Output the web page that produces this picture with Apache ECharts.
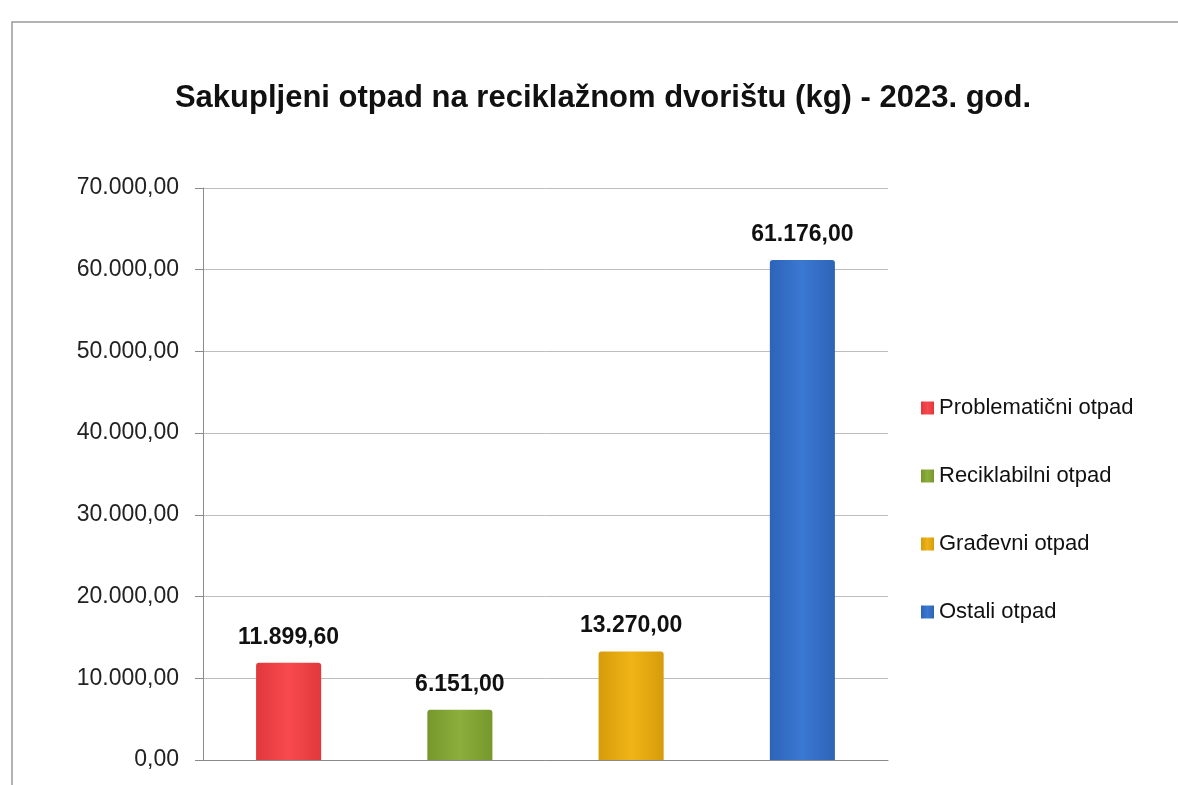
<!DOCTYPE html>
<html>
<head>
<meta charset="utf-8">
<script src="https://cdn.jsdelivr.net/npm/echarts@6/dist/echarts.min.js"></script>
<style>
  html, body { margin: 0; padding: 0; background: #fff; }
  #chart { width: 1178px; height: 785px; }
</style>
</head>
<body>
<div id="chart"></div>
<script>
  // podaci
  const title = 'Sakupljeni otpad na reciklažnom dvorištu (kg) - 2023. god.'
  const seriesNames = ['Problematični otpad', 'Reciklabilni otpad', 'Građevni otpad', 'Ostali otpad']
  const values = [11899.6, 6151.0, 13270.0, 61176.0]
  const colors = ['#f84a4f', '#8cae3c', '#f0b418', '#3b78d2']
  const colorsDark = ['#e0383c', '#76982c', '#d69c0a', '#2d64b8']

  function fmt(v) {
    const parts = v.toFixed(2).split('.')
    const whole = parts[0].replace(/\B(?=(\d{3})+(?!\d))/g, '.')
    return whole + ',' + parts[1]
  }

  const chart = echarts.init(document.getElementById('chart'))

  const series = seriesNames.map((name, i) => ({
    name: name,
    type: 'bar',
    stack: 'all',
    barWidth: '38%',
    data: values.map((v, j) => (j === i ? v : '-')),
    itemStyle: {
      color: new echarts.graphic.LinearGradient(0, 0, 1, 0, [
        { offset: 0, color: colorsDark[i] },
        { offset: 0.5, color: colors[i] },
        { offset: 1, color: colorsDark[i] },
      ]),
      borderRadius: [3, 3, 0, 0],
    },
    label: {
      show: true,
      position: 'top',
      distance: 14,
      fontFamily: 'Liberation Sans',
      fontWeight: 'bold',
      fontSize: 23,
      color: '#111',
      formatter: p => fmt(p.value),
    },
  }))

  chart.setOption({
    backgroundColor: '#fff',
    title: {
      text: title,
      left: 598,
      top: 78,
      textAlign: 'center',
      textStyle: {
        fontFamily: 'Liberation Sans',
        fontWeight: 'bold',
        fontSize: 31,
        color: '#111',
      },
    },
    graphic: [
      {
        type: 'rect',
        shape: { x: 12, y: 22, width: 1200, height: 800 },
        style: { fill: 'none', stroke: '#9a9a9a', lineWidth: 1.5 },
        silent: true,
      },
    ],
    legend: {
      orient: 'vertical',
      left: 916,
      top: 392,
      itemGap: 46,
      itemWidth: 13,
      itemHeight: 13,
      icon: 'rect',
      textStyle: { fontFamily: 'Liberation Sans', fontSize: 22, color: '#111' },
      data: seriesNames,
    },
    grid: { left: 203, right: 290, top: 188, bottom: 25 },
    xAxis: {
      type: 'category',
      data: seriesNames,
      axisLabel: { show: false },
      axisTick: { show: false },
      axisLine: { lineStyle: { color: '#8a8a8a' } },
    },
    yAxis: {
      type: 'value',
      min: 0,
      max: 70000,
      interval: 10000,
      axisLine: { show: true, lineStyle: { color: '#8a8a8a' } },
      axisTick: { show: true, length: 8, lineStyle: { color: '#8a8a8a' } },
      splitLine: { lineStyle: { color: '#bdbdbd' } },
      axisLabel: {
        margin: 24,
        fontFamily: 'Liberation Sans',
        fontSize: 23,
        color: '#222',
        formatter: v => fmt(v),
      },
    },
    series: series,
  })

  window.addEventListener('resize', function () {
    chart.resize()
  })
</script>
</body>
</html>
